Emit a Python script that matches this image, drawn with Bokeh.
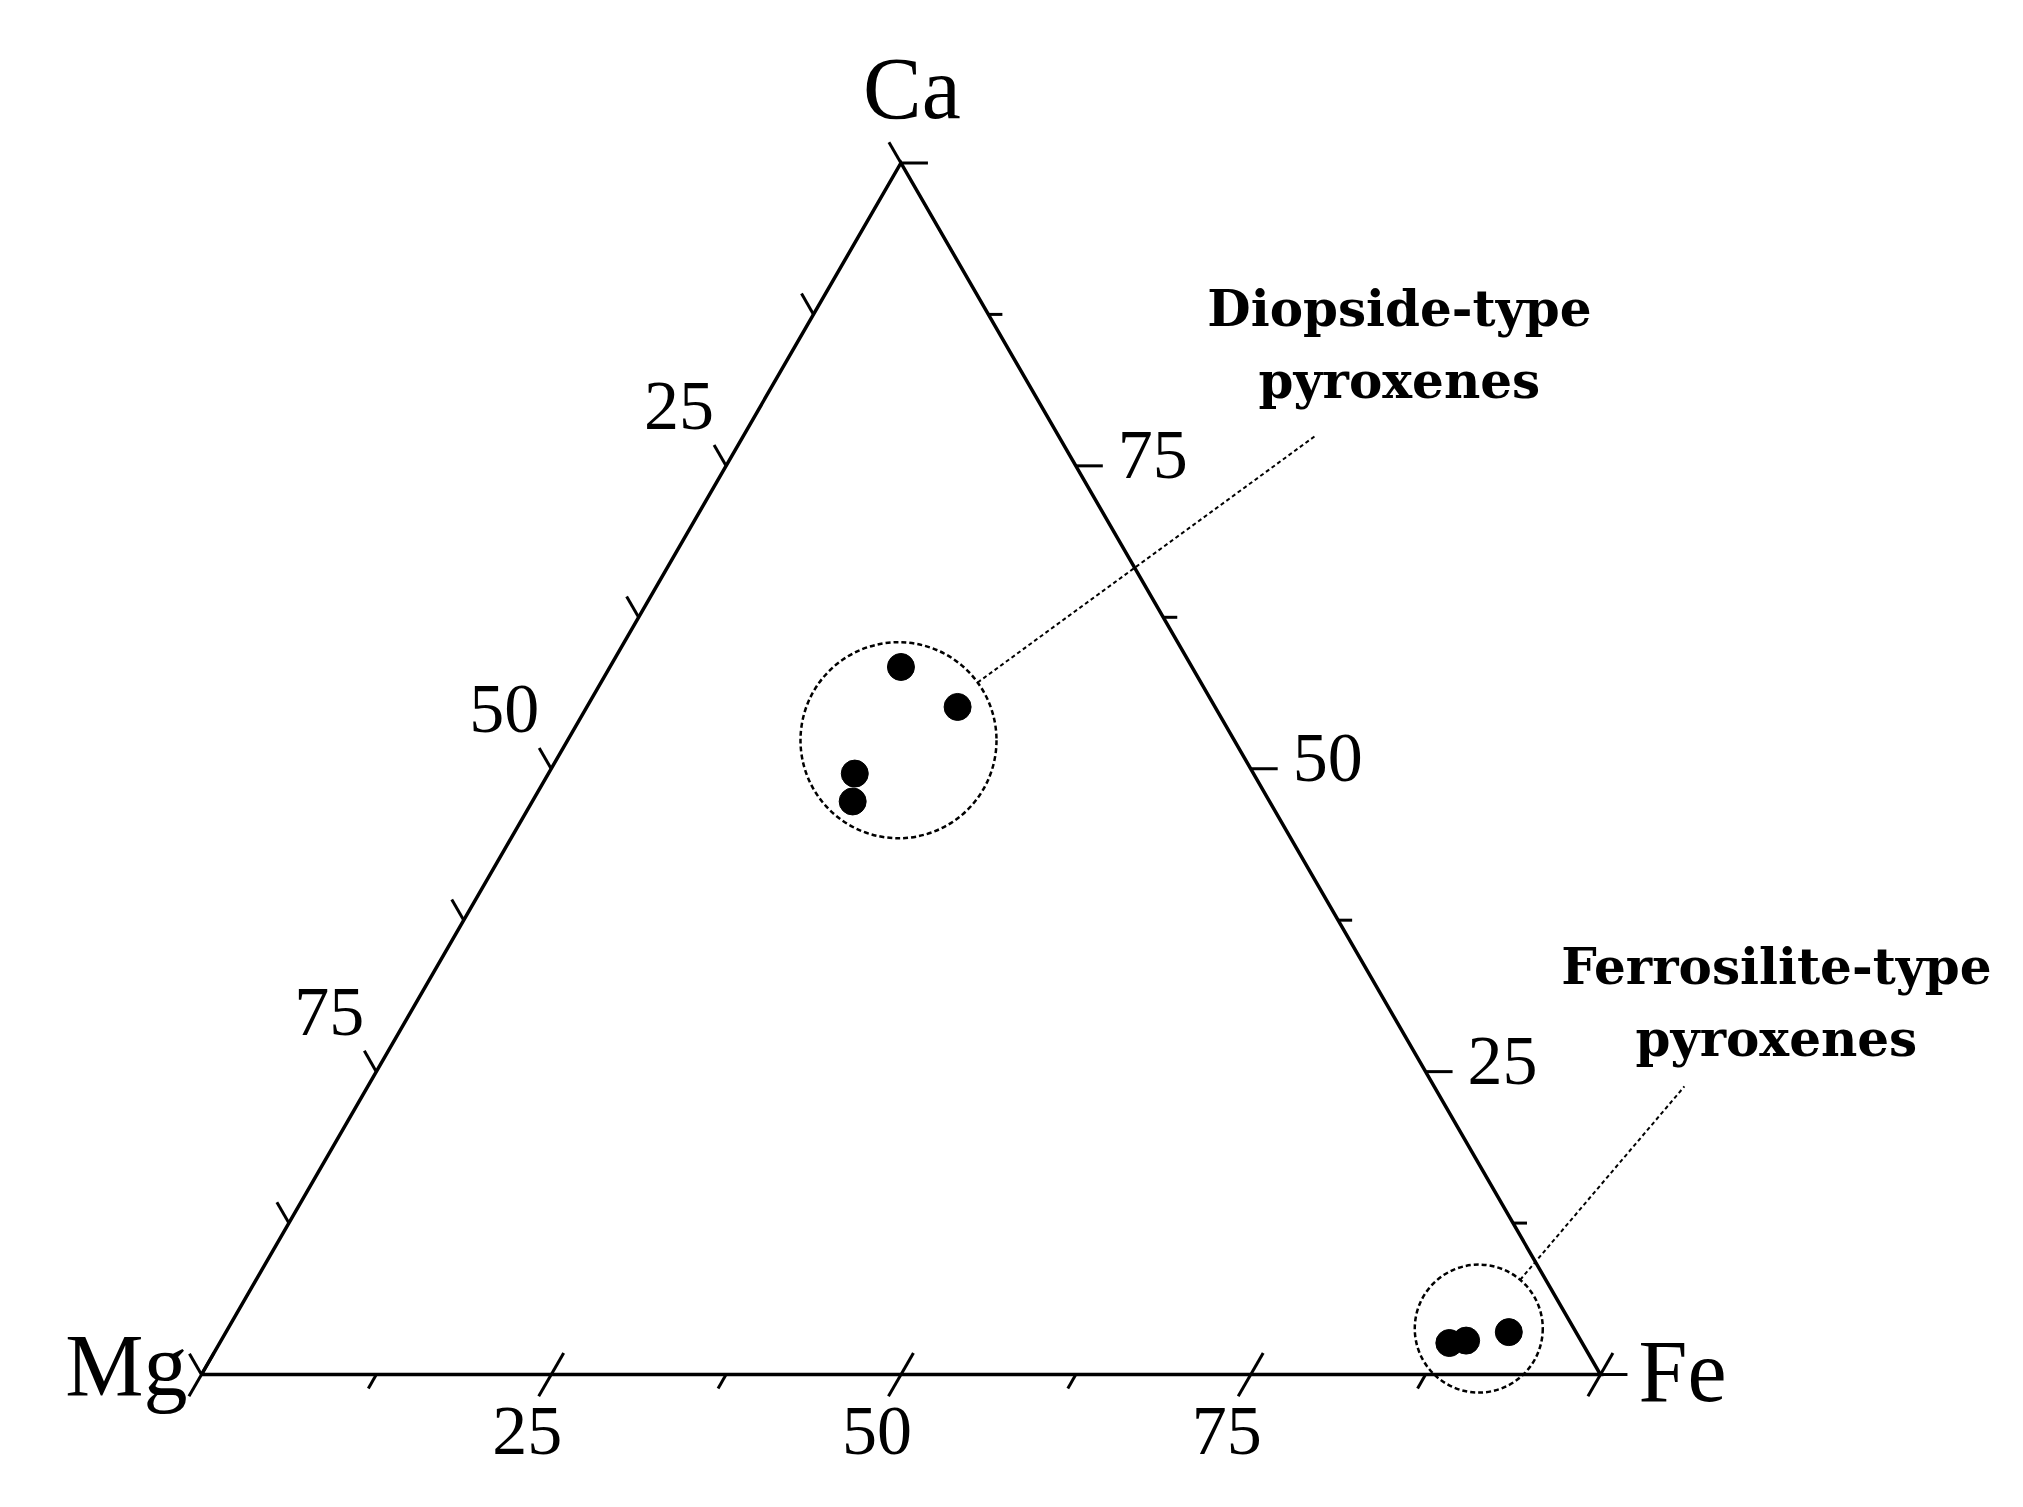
import math
from bokeh.plotting import figure
from bokeh.models import Range1d
from bokeh.core.properties import value
from bokeh.embed import file_html
from bokeh.resources import INLINE

# ---------------- data (ternary compositions, %) ----------------
diopside_ca = [58.4, 55.1, 49.6, 47.3]
diopside_mg = [20.8, 18.4, 28.5, 29.8]
diopside_fe = [20.8, 26.5, 21.9, 22.9]

ferro_ca = [2.6, 2.8, 3.5]
ferro_mg = [9.5, 8.2, 4.8]
ferro_fe = [87.9, 89.0, 91.7]

major_ticks = [0, 25, 50, 75, 100]
minor_ticks = [12.5, 37.5, 62.5, 87.5]
tick_labels = ["25", "50", "75"]
label_values = [25, 50, 75]

vertex_names = ["Ca", "Mg", "Fe"]
group_names = [["Diopside-type", "pyroxenes"], ["Ferrosilite-type", "pyroxenes"]]

# ---------------- layout ----------------
W, H = 2007, 1491
S = 13.99                              # pixels per data unit
X0, Y0 = -13.72 - 9 / S, -8.79 + 6 / S # data value at left / bottom edge
R3 = math.sqrt(3) / 2
BASE_FIX = 0.35                        # baseline correction (em)

def cart(ca, mg, fe):
    tot = ca + mg + fe
    return (fe + ca / 2) * 100 / tot, ca * R3 * 100 / tot

def px(dx, dy):
    """screen-pixel offset (right, down) -> data offset"""
    return dx / S, -dy / S

p = figure(width=W, height=H, output_backend="svg", toolbar_location=None,
           x_range=Range1d(X0, X0 + W / S), y_range=Range1d(Y0, Y0 + H / S),
           x_axis_location=None, y_axis_location=None, min_border=0)
p.grid.visible = False
p.outline_line_color = None
p.background_fill_color = "white"
p.border_fill_color = "white"

LW = 3.5
BLACK = "black"

# triangle sides
A = cart(100, 0, 0)   # Ca
B = cart(0, 100, 0)   # Mg
C = cart(0, 0, 100)   # Fe
p.line([B[0], C[0], A[0], B[0]], [B[1], C[1], A[1], B[1]], line_color=BLACK,
       line_width=LW, line_join="miter")

# ticks
xs, ys = [], []
def seg(pt, d, l0, l1):
    xs.append([pt[0] + d[0] * l0 / S, pt[0] + d[0] * l1 / S])
    ys.append([pt[1] + d[1] * l0 / S, pt[1] + d[1] * l1 / S])

d_base = (-0.5, -R3)   # down-left
d_left = (-0.5, R3)    # up-left
d_right = (1.0, 0.0)   # right
for v in major_ticks:
    seg(cart(0, 100 - v, v), d_base, -25, 25)      # Fe axis (base)
    seg(cart(100 - v, v, 0), d_left, 0, 24)        # Mg axis (left)
    seg(cart(v, 0, 100 - v), d_right, 0, 27)       # Ca axis (right)
for v in minor_ticks:
    seg(cart(0, 100 - v, v), d_base, 0, 16)
    seg(cart(100 - v, v, 0), d_left, 0, 24)
    seg(cart(v, 0, 100 - v), d_right, 0, 14)
p.multi_line(xs, ys, line_color=BLACK, line_width=3)

serif = value("Liberation Serif")

def txt(x, y, texts, font, size, align, style="normal"):
    # y is the alphabetic baseline; shift so glyphs land on it
    dy = BASE_FIX * size / S
    p.text(x, [v + dy for v in y], text=texts, text_font=font,
           text_font_size=value(f"{size}px"), text_font_style=style,
           text_align=align, text_baseline="alphabetic", text_color=BLACK)

# tick labels
bx, by, lx, ly, rx, ry = [], [], [], [], [], []
for v in label_values:
    pt = cart(0, 100 - v, v); o = px(-24, 81)
    bx.append(pt[0] + o[0]); by.append(pt[1] + o[1])
    pt = cart(100 - v, v, 0); o = px(-47, -35)
    lx.append(pt[0] + o[0]); ly.append(pt[1] + o[1])
    pt = cart(v, 0, 100 - v); o = px(42, 14)
    rx.append(pt[0] + o[0]); ry.append(pt[1] + o[1])
txt(bx, by, tick_labels, serif, 70, "center")
txt(lx, ly, tick_labels, serif, 70, "center")
txt(rx, ry, tick_labels, serif, 70, "left")

# vertex labels
for (vx, vy), name, off, al in [(A, vertex_names[0], (11, -44), "center"),
                                (B, vertex_names[1], (-14, 22), "right"),
                                (C, vertex_names[2], (38, 28), "left")]:
    o = px(*off)
    txt([vx + o[0]], [vy + o[1]], [name], serif, 88, al)

# data points
dx_, dy_ = zip(*[cart(a, b, c) for a, b, c in zip(diopside_ca, diopside_mg, diopside_fe)])
fx_, fy_ = zip(*[cart(a, b, c) for a, b, c in zip(ferro_ca, ferro_mg, ferro_fe)])
p.scatter(list(dx_), list(dy_), size=27, marker="circle", fill_color=BLACK, line_color=BLACK)
p.scatter(list(fx_), list(fy_), size=27, marker="circle", fill_color=BLACK, line_color=BLACK)

# group rings, leader lines and labels
groups = [
    dict(x=dx_, y=dy_, r=98, shift=(7, 3), end=(79.56, 67.05), lab=(85.63, 74.98)),
    dict(x=fx_, y=fy_, r=64, shift=(4, -10), end=(106.0, 20.59), lab=(112.58, 27.88)),
]
bold = value("DejaVu Serif")
for g, names in zip(groups, group_names):
    cx = sum(g["x"]) / len(g["x"]) + g["shift"][0] / S
    cy = sum(g["y"]) / len(g["y"]) - g["shift"][1] / S
    r = g["r"] / S
    p.circle([cx], [cy], radius=r, fill_color=None, line_color=BLACK,
             line_width=2.5, line_dash="5 3")
    ex, ey = g["end"]
    L = math.hypot(ex - cx, ey - cy)
    sx, sy = cx + (ex - cx) / L * r, cy + (ey - cy) / L * r
    p.line([sx, ex], [sy, ey], line_color=BLACK, line_width=2, line_dash="4 3")
    tx, ty = g["lab"]
    txt([tx, tx], [ty, ty - 72 / S], names, bold, 50, "center", "bold")

open("out.html", "w").write(file_html(p, INLINE))
